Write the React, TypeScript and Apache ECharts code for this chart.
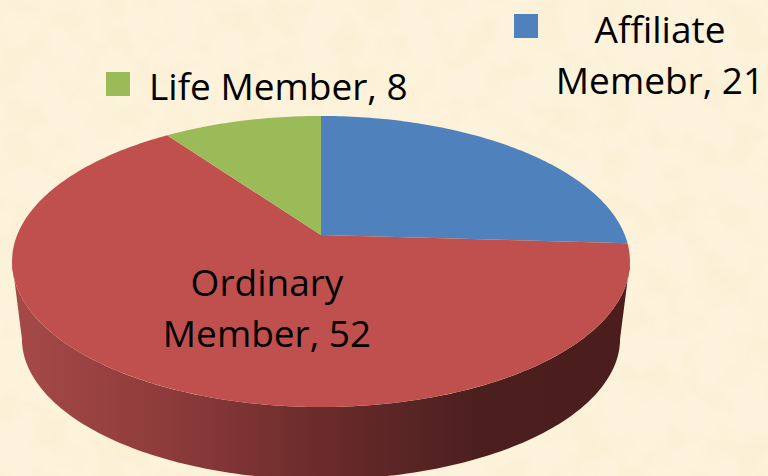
import React, { useEffect, useRef } from "react";
import * as echarts from "echarts";

const categories = ["Affiliate\nMemebr", "Ordinary\nMember", "Life Member"];
const values = [21, 52, 8];
const colors = ["#4f81bd", "#c0504d", "#9bbb59"];

const FONT = "'Open Sans', sans-serif";
const APEX = { x: 321, y: 235 };
const PERSPECTIVE = 0.182;
const AX = 303.8;
const BY = 140.7;
const BASE_SCALE = 0.968;
const BASE_SHIFT = 78;

const texture =
  "data:image/svg+xml," +
  encodeURIComponent(
    `<svg xmlns="http://www.w3.org/2000/svg" width="768" height="476"><filter id="n" x="0" y="0" width="100%" height="100%"><feTurbulence type="fractalNoise" baseFrequency="0.03" numOctaves="3" seed="7"/><feColorMatrix values="0 0 0 0 0.93 0 0 0 0 0.82 0 0 0 0 0.55 0.7 0 0 0 -0.26"/></filter><rect width="768" height="476" filter="url(#n)"/></svg>`
  );

const rad = (d: number) => (d * Math.PI) / 180;

function project(deg: number, onBase: boolean): number[] {
  const u = Math.sin(rad(deg));
  const v = Math.cos(rad(deg));
  const d = 1 + PERSPECTIVE * v;
  const s = onBase ? BASE_SCALE : 1;
  const shift = onBase ? BASE_SHIFT : 0;
  return [APEX.x + (s * AX * u) / d, APEX.y - (s * BY * v) / d + shift];
}

function arcPoints(a: number, b: number, onBase: boolean): number[][] {
  const pts: number[][] = [];
  const n = Math.max(2, Math.ceil(Math.abs(b - a)));
  for (let i = 0; i <= n; i++) pts.push(project(a + ((b - a) * i) / n, onBase));
  return pts;
}

const total = values.reduce((s, v) => s + v, 0);
const starts: number[] = [];
values.reduce((acc, v, i) => {
  starts[i] = acc;
  return acc + (v / total) * 360;
}, 0);

const WALL_FROM = (Math.acos(-PERSPECTIVE) * 180) / Math.PI;
const WALL_TO = 360 - WALL_FROM;

function renderSlice(params: any, api: any) {
  const i = params.dataIndex;
  const a = starts[i];
  const b = a + (api.value(0) / total) * 360;
  const children: any[] = [];
  const wa = Math.max(a, WALL_FROM);
  const wb = Math.min(b, WALL_TO);
  if (wb > wa) {
    children.push({
      type: "polygon",
      shape: { points: [...arcPoints(wa, wb, false), ...arcPoints(wb, wa, true)] },
      style: {
        fill: new echarts.graphic.LinearGradient(0, 0, 1, 0, [
          { offset: 0, color: "#a64a48" },
          { offset: 0.3, color: "#883838" },
          { offset: 0.5, color: "#6b2b2b" },
          { offset: 0.75, color: "#4c1f1f" },
          { offset: 1, color: "#4b1d1d" },
        ]),
      },
    });
  }
  children.push({
    type: "polygon",
    shape: { points: [[APEX.x, APEX.y], ...arcPoints(a, b, false)] },
    style: { fill: colors[i] },
  });
  return { type: "group", children };
}

const labelText = (i: number) => `${categories[i]}, ${values[i]}`;

const textStyle = (extra: any) => ({
  fill: "#000",
  font: `37px ${FONT}`,
  lineHeight: 51,
  ...extra,
});

export default function App() {
  const ref = useRef<HTMLDivElement>(null);
  useEffect(() => {
    document.body.style.margin = "0";
    const chart = echarts.init(ref.current!, null, { renderer: "svg" });
    chart.setOption({
      animation: false,
      backgroundColor: "transparent",
      series: [
        {
          type: "custom",
          coordinateSystem: "none",
          silent: true,
          z: 1,
          data: values.map((v, i) => ({ name: categories[i], value: [v] })),
          renderItem: renderSlice,
        },
      ],
      graphic: [
        { type: "rect", z: 10, shape: { x: 514, y: 14, width: 24, height: 24 }, style: { fill: colors[0] } },
        { type: "rect", z: 10, shape: { x: 106, y: 72, width: 24, height: 24 }, style: { fill: colors[2] } },
        {
          type: "text",
          z: 10,
          x: 660,
          y: 54,
          style: textStyle({ text: labelText(0), align: "center", verticalAlign: "middle" }),
        },
        {
          type: "text",
          z: 10,
          x: 267,
          y: 307,
          style: textStyle({ text: labelText(1), align: "center", verticalAlign: "middle" }),
        },
        {
          type: "text",
          z: 10,
          x: 149,
          y: 85,
          style: textStyle({ text: labelText(2), align: "left", verticalAlign: "middle" }),
        },
      ],
    });
    return () => chart.dispose();
  }, []);
  return (
    <div
      ref={ref}
      style={{
        width: 768,
        height: 476,
        backgroundColor: "#fdf3dc",
        backgroundImage: `url("${texture}")`,
      }}
    />
  );
}
